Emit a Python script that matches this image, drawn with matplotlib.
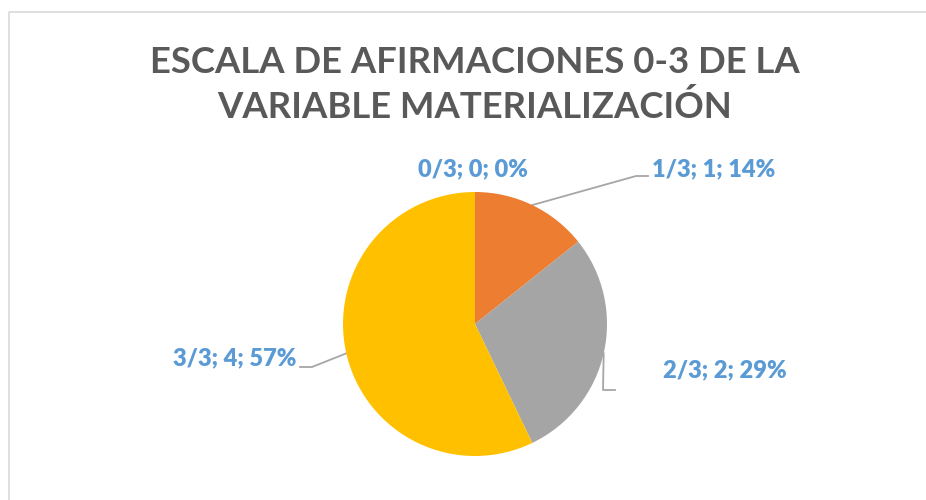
import matplotlib.pyplot as plt
import numpy as np

categories = ['0/3', '1/3', '2/3', '3/3']
counts = [0, 1, 2, 4]
colors = ['#5B9BD5', '#ED7D31', '#A5A5A5', '#FFC000']

title = 'ESCALA DE AFIRMACIONES 0-3 DE LA\nVARIABLE MATERIALIZACIÓN'

W, H = 926, 500
fig = plt.figure(figsize=(W / 100, H / 100), dpi=100)
ax = fig.add_axes([0, 0, 1, 1])

cx, cy, r = 475, H - 324, 132
wedges, _ = ax.pie(counts, colors=colors, startangle=90, counterclock=False,
                   center=(cx, cy), radius=r, frame=True,
                   wedgeprops=dict(linewidth=0))
ax.set_xlim(0, W)
ax.set_ylim(0, H)
ax.set_aspect('equal')
ax.axis('off')

# chart border (only top/left visible in the crop)
ax.plot([9, 9, W + 5], [-5, H - 12, H - 12], color='#D9D9D9', lw=1.2)

ax.text(cx, H - 85, title, ha='center', va='center', fontsize=26.3,
        fontweight='bold', color='#595959', family='Lato', linespacing=1.38)

total = sum(counts)
pcts = [round(100 * c / total) for c in counts]
lab_style = dict(fontsize=17, fontweight='heavy', color='#5B9BD5', family='Lato')

# label placement (text anchor, elbow points of leader)
place = {
    '0/3': dict(xy=(473, H - 169), ha='center', leader=None),
    '1/3': dict(xy=(652, H - 169), ha='left', leader=[(636, H - 176), (648, H - 176)]),
    '2/3': dict(xy=(663, H - 370), ha='left', leader=[(603, H - 390), (615, H - 390)]),
    '3/3': dict(xy=(296, H - 358), ha='right', leader=[(312, H - 367), (300, H - 367)]),
}

for w, cat, c, p in zip(wedges, categories, counts, pcts):
    pl = place[cat]
    ax.text(pl['xy'][0], pl['xy'][1], f'{cat}; {c}; {p}%', ha=pl['ha'], va='center', **lab_style)
    if pl['leader'] is not None:
        mid = np.deg2rad((w.theta1 + w.theta2) / 2)
        sx, sy = cx + r * np.cos(mid), cy + r * np.sin(mid)
        pts = [(sx, sy)] + pl['leader']
        ax.plot([q[0] for q in pts], [q[1] for q in pts], color='#A6A6A6', lw=1.3, zorder=0.5)

fig.savefig('out.png', dpi=100)
